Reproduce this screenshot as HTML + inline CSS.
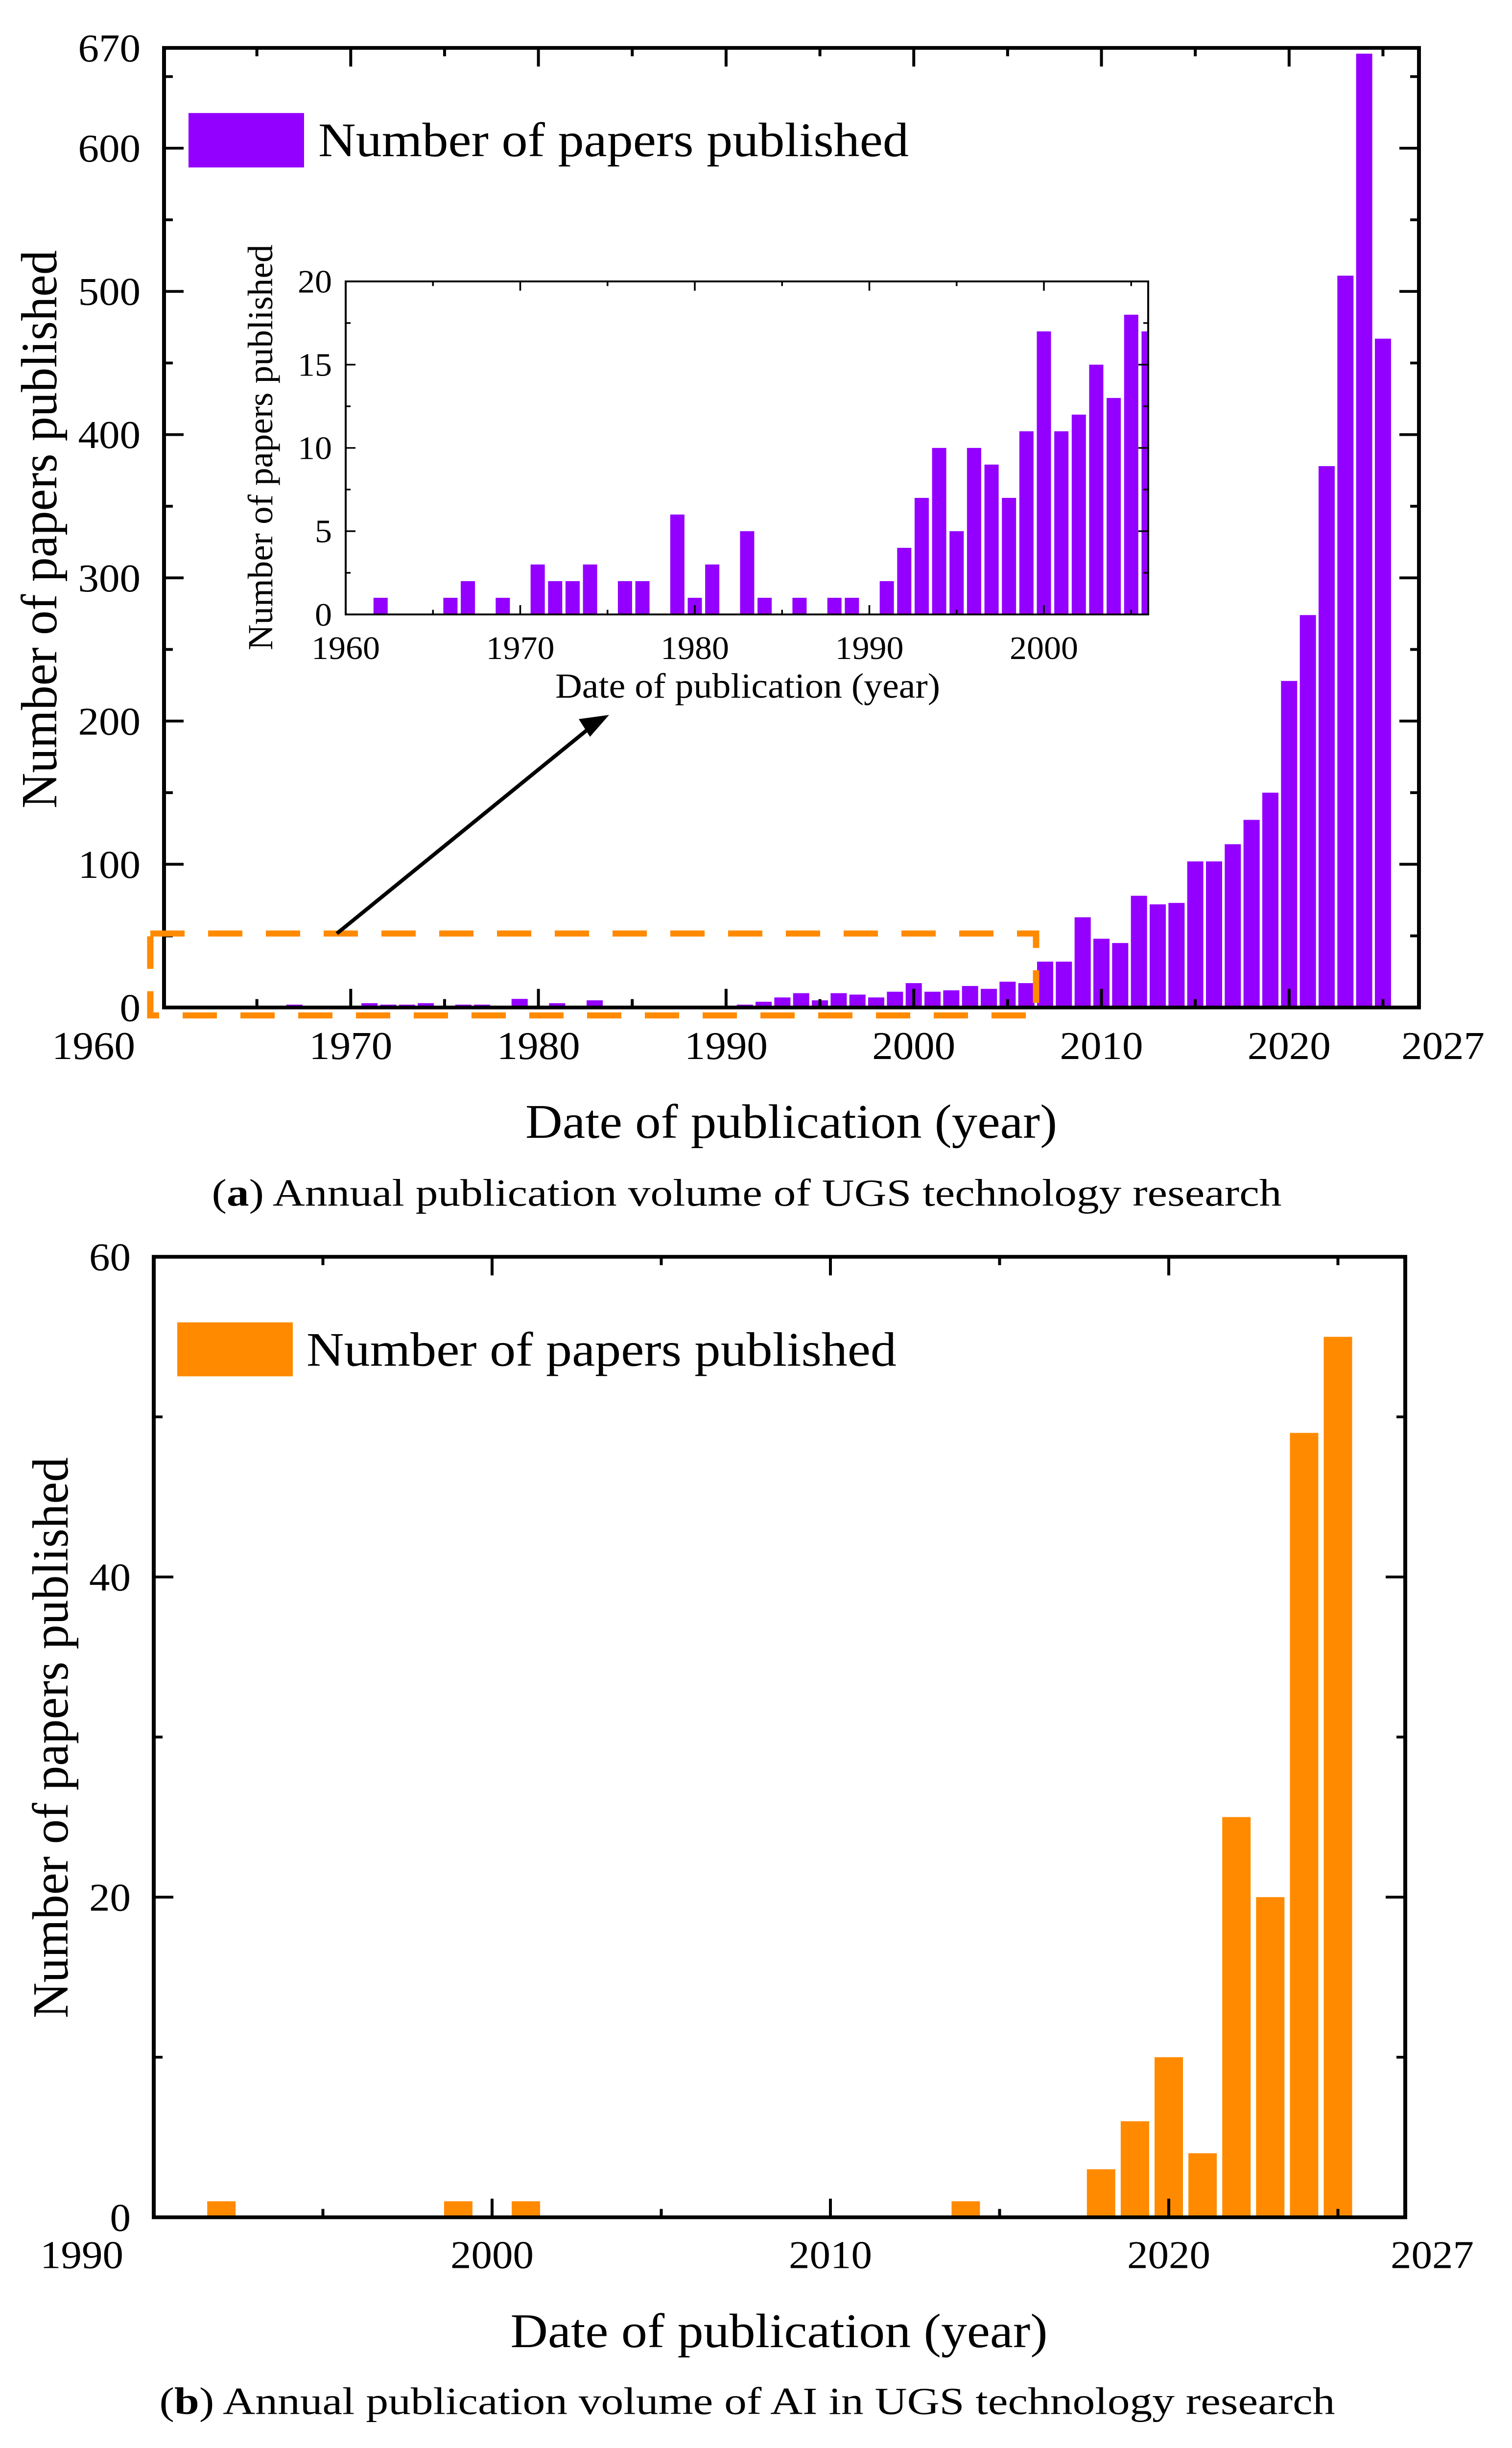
<!DOCTYPE html>
<html><head><meta charset="utf-8"><style>
html,body{margin:0;padding:0;background:#fff;width:100%;height:100%;overflow:hidden;}
svg{display:block;overflow:hidden;width:100vw;height:100vh;}
text{font-family:"Liberation Serif","Times New Roman",serif;fill:#000;}
</style></head>
<body>
<svg id="fig" viewBox="0 0 3088 5263" preserveAspectRatio="none" xmlns="http://www.w3.org/2000/svg">
<g id="chartA"></g>
<g id="chartB"></g>
</svg>
<script>
// ---- Data: chart (a) ----
const yearsA = [1962,1966,1967,1969,1971,1972,1973,1974,1976,1977,1979,1980,1981,1983,1984,1986,1988,1989,1991,1992,1993,1994,1995,1996,1997,1998,1999,2000,2001,2002,2003,2004,2005,2006,2007,2008,2009,2010,2011,2012,2013,2014,2015,2016,2017,2018,2019,2020,2021,2022,2023,2024,2025];
const valuesA = [1,1,2,1,3,2,2,3,2,2,6,1,3,5,1,1,1,1,2,4,7,10,5,10,9,7,11,17,11,12,15,13,18,17,32,32,63,48,45,78,72,73,102,102,114,131,150,228,274,378,511,666,467];
const yTicksA = [0,100,200,300,400,500,600,670];
const xTicksA = [1960,1970,1980,1990,2000,2010,2020,2027];
const yTicksInset = [0,5,10,15,20];
const xTicksInset = [1960,1970,1980,1990,2000];
// ---- Data: chart (b) ----
const yearsB = [1992,1999,2001,2014,2018,2019,2020,2021,2022,2023,2024,2025];
const valuesB = [1,1,1,1,3,6,10,4,25,20,49,55];
const yTicksB = [0,20,40,60];
const xTicksB = [1990,2000,2010,2020,2027];

const NS = "http://www.w3.org/2000/svg";
function mk(parent, tag, attrs, txt){
  const e = document.createElementNS(NS, tag);
  for (const k in attrs) e.setAttribute(k, attrs[k]);
  if (txt !== undefined) e.textContent = txt;
  parent.appendChild(e);
  return e;
}
const PURPLE = "#9400FF", ORANGE = "#FF8A00";

// ================= Chart A =================
const A = document.getElementById('chartA');
const ax = y => 333 + (y - 1960) * 38.33;
const ay = v => 2166 - v * 3.079;
const AL = 335, AR = 2898, AT = 103, AB = 2166;

yearsA.forEach((yr, i) => {
  const r = mk(A, 'rect', {x: ax(yr) - 16.5, y: ay(valuesA[i]), width: 33, height: AB - ay(valuesA[i]), fill: PURPLE});
  
  
});
let fA = mk(A, 'rect', {x: AL, y: AT, width: AR - AL, height: AB - AT, fill: 'none', stroke: '#000', 'stroke-width': 8});


for (let v = 0; v <= 650; v += 50) {
  const len = v % 100 === 0 ? 40 : 18;
  mk(A, 'line', {x1: AL, x2: AL + len, y1: ay(v), y2: ay(v), stroke: '#000', 'stroke-width': 6});
  mk(A, 'line', {x1: AR, x2: AR - len, y1: ay(v), y2: ay(v), stroke: '#000', 'stroke-width': 6});
}
yTicksA.forEach(v => {
  const t = mk(A, 'text', {x: 287, y: ay(v) + 29, 'font-size': 85, 'text-anchor': 'end'}, String(v));
  
  
});
for (let yr = 1965; yr <= 2025; yr += 5) {
  const len = yr % 10 === 0 ? 40 : 18;
  mk(A, 'line', {x1: ax(yr), x2: ax(yr), y1: AB, y2: AB - len, stroke: '#000', 'stroke-width': 6});
  mk(A, 'line', {x1: ax(yr), x2: ax(yr), y1: AT, y2: AT + len, stroke: '#000', 'stroke-width': 6});
}
xTicksA.forEach(yr => {
  let cx = ax(yr);
  if (yr === 1960) cx = 191;
  if (yr === 2027) cx = 2947;
  const t = mk(A, 'text', {x: cx, y: 2277, 'font-size': 85, 'text-anchor': 'middle'}, String(yr));
  
  
});
let t;
t = mk(A, 'text', {x: 1616, y: 2446, 'font-size': 104, 'text-anchor': 'middle', textLength: 1086, lengthAdjust: 'spacingAndGlyphs'}, 'Date of publication (year)');


t = mk(A, 'text', {x: 0, y: 0, 'font-size': 104, 'text-anchor': 'middle', textLength: 1200, lengthAdjust: 'spacingAndGlyphs', transform: 'translate(115,1138) rotate(-90)'}, 'Number of papers published');


let lg = mk(A, 'rect', {x: 385, y: 243, width: 236, height: 117, fill: PURPLE});


t = mk(A, 'text', {x: 650, y: 336, 'font-size': 104, textLength: 1206, lengthAdjust: 'spacingAndGlyphs'}, 'Number of papers published');


let db = mk(A, 'rect', {x: 307, y: 2007, width: 1809, height: 176, fill: 'none', stroke: ORANGE, 'stroke-width': 13, 'stroke-dasharray': '70 48'});


let ar = mk(A, 'line', {x1: 688, y1: 2007, x2: 1210, y2: 1560, stroke: '#000', 'stroke-width': 8});


let ah = mk(A, 'polygon', {points: '1244,1537 1182,1546 1205,1584', fill: '#000'});



// ---- inset ----
const IN = mk(A, 'g', {});


const IL = 706, IR = 2345, IT = 605, IB = 1321;
const ix = y => IL + (y - 1960) * 35.65;
const iy = v => IB - v * (IB - IT) / 20;
mk(IN, 'rect', {x: IL, y: IT - 5, width: IR - IL, height: IB - IT + 10, fill: '#fff'});
const clip = mk(IN, 'clipPath', {id: 'insetClip'});
mk(clip, 'rect', {x: IL, y: IT, width: IR - IL, height: IB - IT});
const IBars = mk(IN, 'g', {'clip-path': 'url(#insetClip)'});
yearsA.forEach((yr, i) => {
  if (yr > 2006) return;
  const r = mk(IBars, 'rect', {x: ix(yr) - 14.5, y: iy(valuesA[i]), width: 29, height: IB - iy(valuesA[i]), fill: PURPLE});
  
  
});
mk(IN, 'rect', {x: IL, y: IT, width: IR - IL, height: IB - IT, fill: 'none', stroke: '#000', 'stroke-width': 4});
for (let v = 0; v <= 20; v += 2.5) {
  const len = v % 5 === 0 ? 20 : 10;
  mk(IN, 'line', {x1: IL, x2: IL + len, y1: iy(v), y2: iy(v), stroke: '#000', 'stroke-width': 3.5});
  mk(IN, 'line', {x1: IR, x2: IR - len, y1: iy(v), y2: iy(v), stroke: '#000', 'stroke-width': 3.5});
}
for (let yr = 1960; yr <= 2005; yr += 5) {
  const len = yr % 10 === 0 ? 20 : 10;
  mk(IN, 'line', {x1: ix(yr), x2: ix(yr), y1: IB, y2: IB - len, stroke: '#000', 'stroke-width': 3.5});
  mk(IN, 'line', {x1: ix(yr), x2: ix(yr), y1: IT, y2: IT + len, stroke: '#000', 'stroke-width': 3.5});
}
yTicksInset.forEach(v => {
  const tt = mk(IN, 'text', {x: 678, y: iy(v) + 24, 'font-size': 70, 'text-anchor': 'end'}, String(v));
  
  
});
xTicksInset.forEach(yr => {
  const tt = mk(IN, 'text', {x: ix(yr), y: 1417, 'font-size': 70, 'text-anchor': 'middle'}, String(yr));
  
  
});
t = mk(IN, 'text', {x: 1527, y: 1500, 'font-size': 76, 'text-anchor': 'middle', textLength: 786, lengthAdjust: 'spacingAndGlyphs'}, 'Date of publication (year)');


t = mk(IN, 'text', {x: 0, y: 0, 'font-size': 72, 'text-anchor': 'middle', textLength: 872, lengthAdjust: 'spacingAndGlyphs', transform: 'translate(556,962) rotate(-90)'}, 'Number of papers published');



t = mk(A, 'text', {x: 1525, y: 2592, 'font-size': 82, 'text-anchor': 'middle', textLength: 2185, lengthAdjust: 'spacingAndGlyphs'});


t.innerHTML = '(<tspan font-weight="bold">a</tspan>) Annual publication volume of UGS technology research';

// ================= Chart B =================
const B = document.getElementById('chartB');
const BL = 314, BR = 2870, BT = 2702, BB = 4767;
const bx = y => BL + (y - 1990) * 69.1;
const by = v => BB - v * (BB - BT) / 60;
yearsB.forEach((yr, i) => {
  const r = mk(B, 'rect', {x: bx(yr) - 29, y: by(valuesB[i]), width: 58, height: BB - by(valuesB[i]), fill: ORANGE});
  
  
});
let fB = mk(B, 'rect', {x: BL, y: BT, width: BR - BL, height: BB - BT, fill: 'none', stroke: '#000', 'stroke-width': 8});


for (let v = 0; v <= 60; v += 10) {
  const len = v % 20 === 0 ? 40 : 18;
  mk(B, 'line', {x1: BL, x2: BL + len, y1: by(v), y2: by(v), stroke: '#000', 'stroke-width': 6});
  mk(B, 'line', {x1: BR, x2: BR - len, y1: by(v), y2: by(v), stroke: '#000', 'stroke-width': 6});
}
for (let yr = 1995; yr <= 2025; yr += 5) {
  const len = yr % 10 === 0 ? 40 : 18;
  mk(B, 'line', {x1: bx(yr), x2: bx(yr), y1: BB, y2: BB - len, stroke: '#000', 'stroke-width': 6});
  mk(B, 'line', {x1: bx(yr), x2: bx(yr), y1: BT, y2: BT + len, stroke: '#000', 'stroke-width': 6});
}
yTicksB.forEach(v => {
  const tt = mk(B, 'text', {x: 267, y: by(v) + 29, 'font-size': 85, 'text-anchor': 'end'}, String(v));
  
  
});
xTicksB.forEach(yr => {
  let cx = bx(yr);
  if (yr === 1990) cx = 167;
  if (yr === 2027) cx = 2925;
  const tt = mk(B, 'text', {x: cx, y: 4876, 'font-size': 85, 'text-anchor': 'middle'}, String(yr));
  
  
});
let lgB = mk(B, 'rect', {x: 362, y: 2843, width: 236, height: 116, fill: ORANGE});


t = mk(B, 'text', {x: 626, y: 2936, 'font-size': 104, textLength: 1205, lengthAdjust: 'spacingAndGlyphs'}, 'Number of papers published');


t = mk(B, 'text', {x: 1591, y: 5046, 'font-size': 104, 'text-anchor': 'middle', textLength: 1097, lengthAdjust: 'spacingAndGlyphs'}, 'Date of publication (year)');


t = mk(B, 'text', {x: 0, y: 0, 'font-size': 104, 'text-anchor': 'middle', textLength: 1206, lengthAdjust: 'spacingAndGlyphs', transform: 'translate(138,3736) rotate(-90)'}, 'Number of papers published');


t = mk(B, 'text', {x: 1526, y: 5190, 'font-size': 82, 'text-anchor': 'middle', textLength: 2401, lengthAdjust: 'spacingAndGlyphs'});


t.innerHTML = '(<tspan font-weight="bold">b</tspan>) Annual publication volume of AI in UGS technology research';
</script>
</body></html>
